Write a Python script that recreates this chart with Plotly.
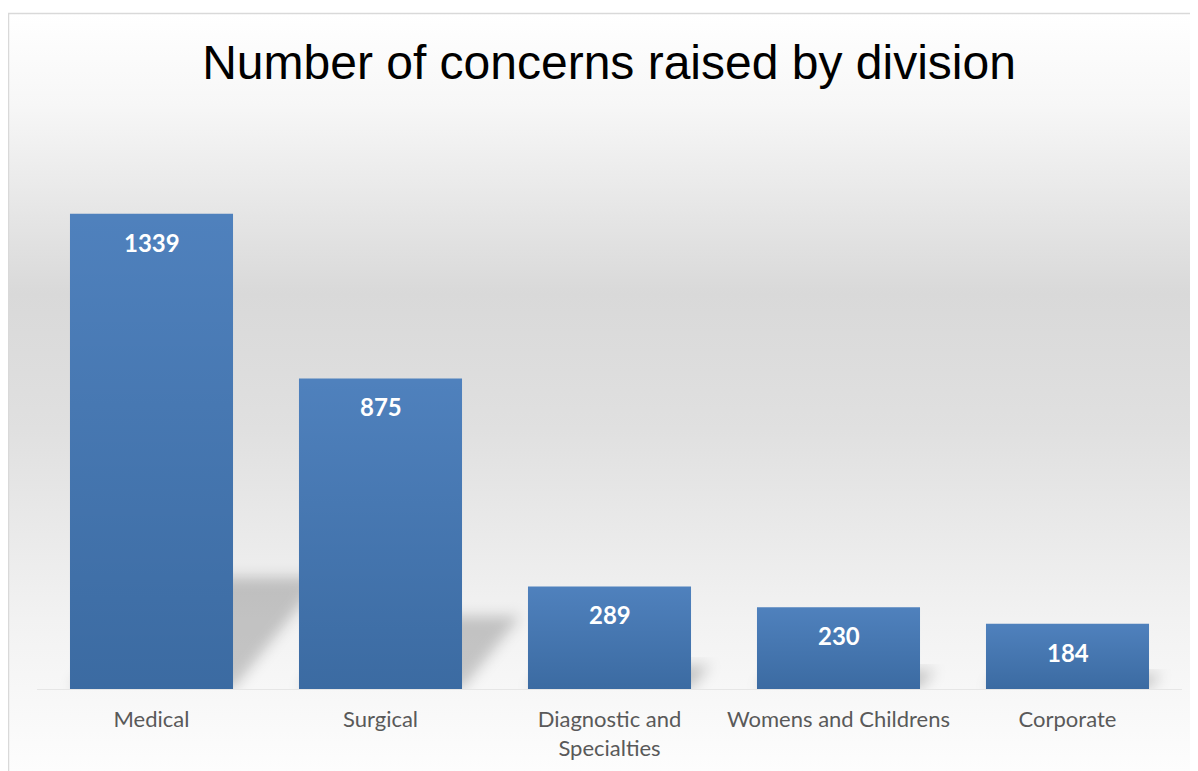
import base64
import plotly.graph_objects as go

# ---- data ----
categories = ["Medical", "Surgical", "Diagnostic and<br>Specialties", "Womens and Childrens", "Corporate"]
values = [1339, 875, 289, 230, 184]
title_text = "Number of concerns raised by division"

# ---- layout constants (figure is placed at 8px page offset) ----
OFF = 8
W, H = 1198 - OFF, 771 - OFF
L, R, T, B = 37 - OFF, 16, 121 - OFF, 82
plot_w = W - L - R
plot_h = H - T - B
y_max = 1600
bargap = 0.288
px_per_cat = plot_w / len(categories)
px_per_unit = plot_h / y_max
bar_w = 1 - bargap


def svg_uri(svg):
    return "data:image/svg+xml;base64," + base64.b64encode(svg.encode()).decode()


def px_to_paper_x(px):
    return (px - L) / plot_w


def px_to_paper_y(py):
    return (H - B - py) / plot_h


# background gradient
bg_svg = (
    '<svg xmlns="http://www.w3.org/2000/svg" width="100" height="100" viewBox="0 0 100 100" preserveAspectRatio="none">'
    '<defs><linearGradient id="g" x1="0" y1="0" x2="0" y2="1">'
    '<stop offset="0" stop-color="#ffffff"/>'
    '<stop offset="0.12" stop-color="#f7f7f7"/>'
    '<stop offset="0.37" stop-color="#d9d9d9"/>'
    '<stop offset="0.55" stop-color="#e0e0e0"/>'
    '<stop offset="0.8" stop-color="#f2f2f2"/>'
    '<stop offset="1" stop-color="#fdfdfd"/>'
    '</linearGradient></defs><rect width="100" height="100" fill="url(#g)"/></svg>'
)

images = [dict(
    source=svg_uri(bg_svg), xref="paper", yref="paper",
    x=px_to_paper_x(0), y=px_to_paper_y(5),
    sizex=W / plot_w, sizey=(H - 5) / plot_h,
    xanchor="left", yanchor="top", sizing="stretch", layer="below",
)]

# soft drop shadows behind each bar
pad = 22
bar_px = bar_w * px_per_cat
for i, v in enumerate(values):
    sh = 0.235 * v * px_per_unit
    shift = 0.8 * sh
    iw = bar_px + shift + 2 * pad
    ih = sh + 2 * pad
    pts = f"{pad},{pad + sh} {pad + bar_px},{pad + sh} {pad + bar_px + shift},{pad} {pad + shift},{pad}"
    svg = (
        f'<svg xmlns="http://www.w3.org/2000/svg" width="{iw:.1f}" height="{ih:.1f}" viewBox="0 0 {iw:.1f} {ih:.1f}">'
        '<defs><filter id="b" x="-20%" y="-30%" width="140%" height="160%"><feGaussianBlur stdDeviation="7"/></filter></defs>'
        f'<polygon points="{pts}" fill="#000" fill-opacity="0.2" filter="url(#b)"/></svg>'
    )
    images.append(dict(
        source=svg_uri(svg), xref="x", yref="y",
        x=i - bar_w / 2 - pad / px_per_cat, y=(sh + pad) / px_per_unit,
        sizex=iw / px_per_cat, sizey=ih / px_per_unit,
        xanchor="left", yanchor="top", sizing="stretch", layer="below",
    ))

# per-bar shading gradient overlay
grad_svg = (
    '<svg xmlns="http://www.w3.org/2000/svg" width="100" height="100" viewBox="0 0 100 100" preserveAspectRatio="none">'
    '<defs><linearGradient id="g" x1="0" y1="0" x2="0" y2="1">'
    '<stop offset="0" stop-color="rgb(0,40,80)" stop-opacity="0"/>'
    '<stop offset="1" stop-color="rgb(0,40,80)" stop-opacity="0.25"/>'
    '</linearGradient></defs><rect width="100" height="100" fill="url(#g)"/></svg>'
)
for i, v in enumerate(values):
    images.append(dict(
        source=svg_uri(grad_svg), xref="x", yref="y",
        x=i - bar_w / 2, y=v, sizex=bar_w, sizey=v,
        xanchor="left", yanchor="top", sizing="stretch", layer="above",
    ))

fig = go.Figure(go.Bar(
    x=list(range(len(categories))), y=values,
    marker=dict(color="#4f81bd", line=dict(width=0)),
    hoverinfo="skip",
))

annotations = [dict(
    x=i, y=v, xref="x", yref="y", text=f"<b>{v}</b>", showarrow=False,
    yanchor="top", yshift=-12,
    font=dict(family="Lato, Carlito, Calibri, sans-serif", size=24, color="white"),
) for i, v in enumerate(values)]

fig.update_layout(
    width=W, height=H,
    margin=dict(l=L, r=R, t=T, b=B),
    paper_bgcolor="white", plot_bgcolor="rgba(0,0,0,0)",
    bargap=bargap,
    showlegend=False,
    title=dict(text=title_text, x=(609 - OFF) / W, xanchor="center", y=1 - (62 - OFF) / H, yanchor="middle",
               font=dict(family="Liberation Sans, Arial, sans-serif", size=48, color="#000000")),
    xaxis=dict(
        tickmode="array", tickvals=list(range(len(categories))), ticktext=categories,
        range=[-0.5, len(categories) - 0.5],
        showgrid=False, zeroline=False, showline=True, linecolor="#e6e6e6", linewidth=1,
        ticks="outside", ticklen=11, tickcolor="rgba(0,0,0,0)",
        tickfont=dict(family="Lato, Carlito, Calibri, sans-serif", size=22, color="#595959"),
        fixedrange=True, automargin=False,
    ),
    yaxis=dict(range=[0, y_max], visible=False, fixedrange=True, automargin=False),
    images=images,
    annotations=annotations,
    shapes=[dict(type="rect", xref="paper", yref="paper",
                 x0=px_to_paper_x(0.5), x1=px_to_paper_x(W + 20),
                 y0=px_to_paper_y(5.5), y1=px_to_paper_y(H + 20),
                 line=dict(color="#d9d9d9", width=1.5), fillcolor="rgba(0,0,0,0)", layer="above")],
)

fig.write_html("out.html")
